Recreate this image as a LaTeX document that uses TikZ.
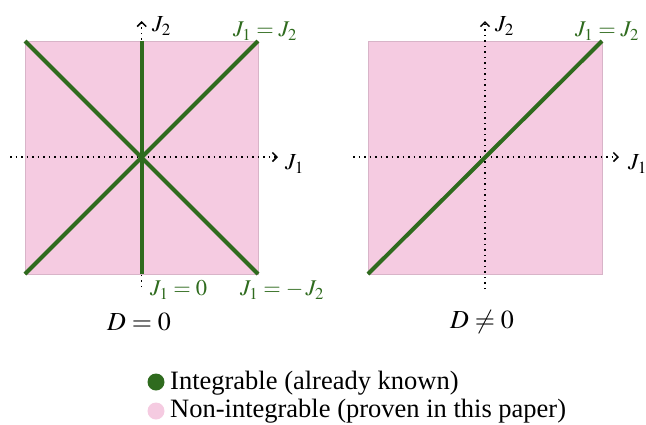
\documentclass[tikz,border=0pt]{standalone}
\usepackage{mathptmx}
\usepackage{fontspec}
\setmainfont{Liberation Serif}
\usetikzlibrary{arrows.meta}
\definecolor{pinkfill}{HTML}{F5CBE1}
\definecolor{pinkedge}{HTML}{D8B4C8}
\definecolor{dgreen}{HTML}{2F6B1E}
\tikzset{
  axis/.style={line width=1.5pt, dash pattern=on 1.5pt off 4pt, -{Straight Barb[length=4.5pt,width=9pt,line width=1.5pt]}},
  region/.style={fill=pinkfill, draw=pinkedge, line width=0.6pt},
  integ/.style={draw=dgreen, line width=4pt},
  glabel/.style={text=dgreen, font=\fontsize{22.5}{26}\selectfont, inner sep=0pt},
  alabel/.style={text=black, font=\fontsize{23}{26}\selectfont, inner sep=0pt},
  title/.style={font=\fontsize{26}{29}\selectfont, inner sep=0pt},
  legtext/.style={font=\fontsize{26.5}{30}\selectfont, inner sep=0pt, anchor=west},
}
\begin{document}
\begin{tikzpicture}[x=1pt,y=-1pt]
\useasboundingbox (0,0) rectangle (646,424);
% ---------- left panel ----------
\fill[region] (25,41) rectangle (258,274);
\coordinate (LxS) at (10,157);
\coordinate (LxE) at (278,157);
\coordinate (LyS) at (141.7,287);
\coordinate (LyE) at (141.7,21);
\draw[axis] (LxS) -- (LxE);
\draw[axis] (LyS) -- (LyE);
\coordinate (LA) at (25,41);
\coordinate (LB) at (258,41);
\coordinate (LC) at (258,274);
\coordinate (LD) at (25,274);
\coordinate (LT) at (141.7,41);
\coordinate (LBm) at (141.7,274);
\draw[integ] (LA) -- (LC);
\draw[integ] (LD) -- (LB);
\draw[integ] (LT) -- (LBm);
\node[alabel, anchor=west] (lj1) at (285,164) {$J_1$};
\node[alabel, anchor=west] (lj2) at (152,26) {$J_2$};
\node[glabel] (l12) at (265,31) {$J_1 = J_2$};
\node[glabel, anchor=west] (l10) at (150,290) {$J_1 = 0$};
\node[glabel] (lm) at (282,290) {$J_1 = -\,J_2$};
\node[title] (d0) at (139,322) {$D = 0$};
% ---------- right panel ----------
\fill[region] (368,41) rectangle (602,274);
\coordinate (RxS) at (353,157);
\coordinate (RxE) at (619,157);
\coordinate (RyS) at (485,289);
\coordinate (RyE) at (485,21);
\draw[axis] (RxS) -- (RxE);
\draw[axis] (RyS) -- (RyE);
\coordinate (RA) at (368,274);
\coordinate (RB) at (602,41);
\draw[integ] (RA) -- (RB);
\node[alabel, anchor=west] (rj1) at (628,164) {$J_1$};
\node[alabel, anchor=west] (rj2) at (495,26) {$J_2$};
\node[glabel] (r12) at (607,31) {$J_1 = J_2$};
\node[title] (dn0) at (482,322) {$D \neq 0$};
% ---------- legend ----------
\fill[dgreen] (156,382) circle (8.5);
\fill[pinkfill] (156,411) circle (8.5);
\node[legtext] (lg1) at (170,383) {Integrable (already known)};
\node[legtext] (lg2) at (170,411) {Non-integrable (proven in this paper)};
\end{tikzpicture}
\end{document}
